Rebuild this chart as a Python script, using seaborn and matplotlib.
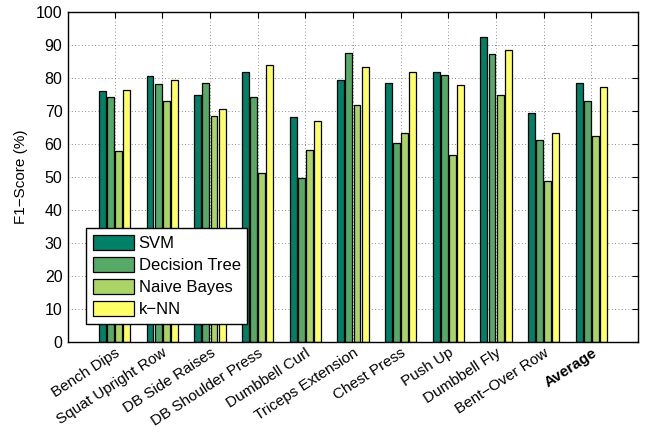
import matplotlib
matplotlib.use("Agg")
import matplotlib.pyplot as plt
import seaborn as sns
import pandas as pd

exercises = ["Bench Dips", "Squat Upright Row", "DB Side Raises", "DB Shoulder Press",
             "Dumbbell Curl", "Triceps Extension", "Chest Press", "Push Up",
             "Dumbbell Fly", "Bent\u2212Over Row", "Average"]
classifiers = ["SVM", "Decision Tree", "Naive Bayes", "k\u2212NN"]

svm = [76.1, 80.6, 74.8, 81.9, 68.1, 79.4, 78.4, 81.8, 92.5, 69.3, 78.5]
decision_tree = [74.3, 78.1, 78.4, 74.3, 49.6, 87.5, 60.2, 80.9, 87.2, 61.1, 73.2]
naive_bayes = [57.8, 73.1, 68.6, 51.2, 58.2, 71.9, 63.3, 56.6, 74.8, 48.7, 62.4]
knn = [76.4, 79.4, 70.6, 83.9, 66.9, 83.4, 81.8, 78.0, 88.5, 63.3, 77.2]

yticks = list(range(0, 101, 10))

# summer colormap, four samples
palette = [(0.0, 0.5, 0.4), (0.333, 0.667, 0.4), (0.667, 0.833, 0.4), (1.0, 1.0, 0.4)]

rows = []
for name, vals in zip(classifiers, [svm, decision_tree, naive_bayes, knn]):
    for ex, v in zip(exercises, vals):
        rows.append({"Exercise": ex, "Classifier": name, "F1": v})
df = pd.DataFrame(rows)

sns.set_style("white")
plt.rcParams["font.family"] = ["Liberation Sans", "DejaVu Sans"]
plt.rcParams["font.size"] = 11
plt.rcParams["text.color"] = "black"
plt.rcParams["axes.labelcolor"] = "black"
plt.rcParams["xtick.color"] = "black"
plt.rcParams["ytick.color"] = "black"

fig = plt.figure(figsize=(6.49, 4.32), dpi=100)
ax = fig.add_axes([0.1048, 0.209, 0.8782, 0.7625])

sns.barplot(data=df, x="Exercise", y="F1", hue="Classifier", order=exercises,
            hue_order=classifiers, palette=palette, width=0.68, gap=0.15,
            edgecolor="black", linewidth=0.9, saturation=1, errorbar=None, ax=ax)

ax.set_xlim(-0.975, len(exercises) - 1 + 0.975)
ax.set_ylim(0, 100)
ax.set_yticks(yticks)
ax.set_yticklabels([str(t) for t in yticks], fontsize=11.5)
ax.set_xlabel("")
ax.set_ylabel("F1\u2212Score (%)", fontsize=11, labelpad=6, color="black")

ax.set_xticks(range(len(exercises)))
labels = ax.set_xticklabels(exercises, rotation=33, ha="right", rotation_mode="anchor",
                            fontsize=11)
labels[-1].set_fontweight("bold")

ax.grid(True, linestyle=(0, (1, 3)), color="#666666", linewidth=0.6)
ax.set_axisbelow(True)
ax.tick_params(direction="in", length=4, width=0.8, top=True, right=True,
               pad=4, colors="black")
ax.tick_params(axis="x", pad=3)
for s in ax.spines.values():
    s.set_visible(True)
    s.set_color("black")
    s.set_linewidth(1.0)

leg = ax.legend(loc="lower left", bbox_to_anchor=(0.0316, 0.0537), borderaxespad=0,
                frameon=True, fancybox=False, framealpha=1, edgecolor="black",
                handlelength=2.45, handleheight=1.0, labelspacing=0.36,
                handletextpad=0.3, borderpad=0.4, fontsize=12)
leg.get_frame().set_linewidth(1.0)
for t in leg.get_texts():
    t.set_color("black")

fig.savefig("out.png", dpi=100)
